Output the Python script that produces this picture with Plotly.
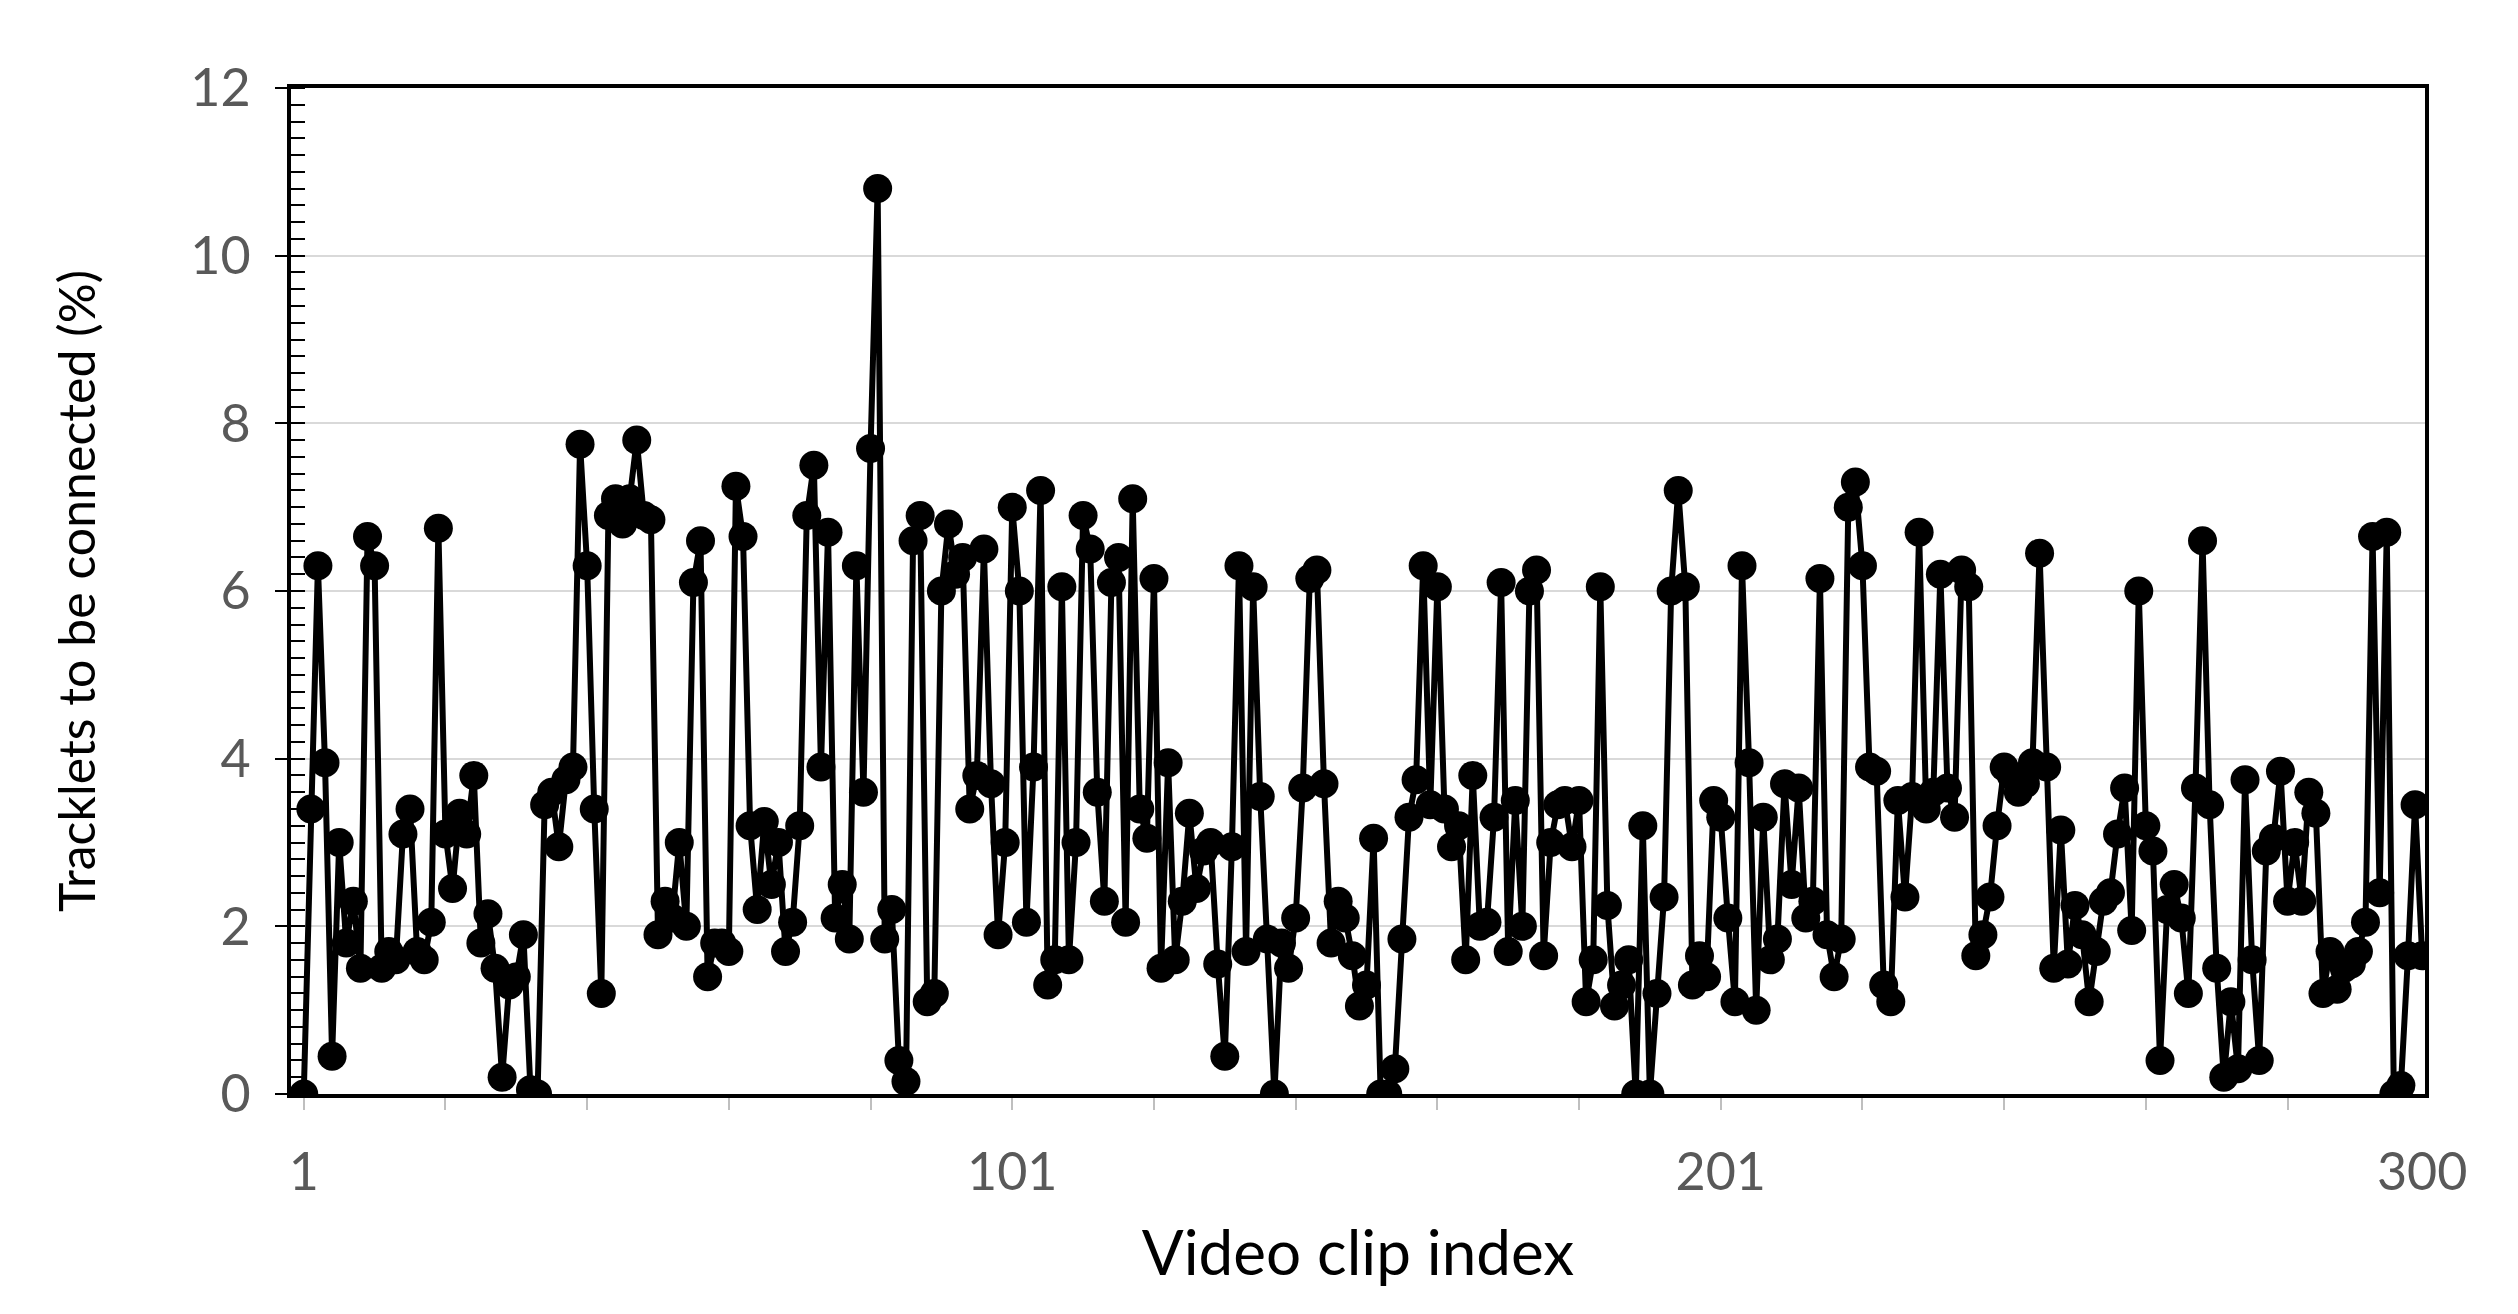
import plotly.graph_objects as go

# clip index 1..300 and the share of tracklets to be connected (%)
clip_index = list(range(1, 301))

seg_a = [0, 3.4, 6.3, 3.95, 0.45, 3.0, 1.8, 2.3, 1.5, 6.65,
         6.3, 1.5, 1.7, 1.6, 3.1, 3.4, 1.7, 1.6, 2.05, 6.75,
         3.1, 2.45, 3.35, 3.1, 3.8, 1.8, 2.15, 1.5, 0.2, 1.3,
         1.4, 1.9, 0.05, 0, 3.45, 3.6, 2.95, 3.75, 3.9, 7.75,
         6.3, 3.4, 1.2, 6.9, 7.1, 6.8, 7.1, 7.8, 6.9, 6.85,
         1.9, 2.3, 2.1, 3.0, 2.0, 6.1, 6.6, 1.4, 1.8, 1.8,
         1.7, 7.25, 6.65, 3.2, 2.2, 3.25, 2.5, 3.0, 1.7, 2.05,
         3.2, 6.9, 7.5, 3.9, 6.7, 2.1, 2.5, 1.85, 6.3, 3.6,
         7.7, 10.8]
seg_b = [1.85, 2.2, 0.4, 0.15, 6.6, 6.9, 1.1, 1.2, 6.0, 6.8,
         6.2, 6.4, 3.4, 3.8, 6.5, 3.7, 1.9, 3.0, 7.0, 6.0,
         2.05, 3.9, 7.2, 1.3, 1.6, 6.05, 1.6, 3.0, 6.9, 6.5,
         3.6, 2.3, 6.1, 6.4, 2.05, 7.1, 3.4, 3.05, 6.15, 1.5,
         3.95, 1.6, 2.3, 3.35, 2.45, 2.9, 3.0, 1.55, 0.45, 2.95,
         6.3, 1.7, 6.05, 3.55, 1.85, 0, 1.8, 1.5, 2.1, 3.65,
         6.15, 6.25, 3.7, 1.8, 2.3, 2.1, 1.65, 1.05, 1.3, 3.05,
         0, 0, 0.3, 1.85, 3.3, 3.75, 6.3, 3.45, 6.05, 3.4,
         2.95, 3.2, 1.6, 3.8, 2.0, 2.05, 3.3, 6.1, 1.7, 3.5,
         2.0, 6.0, 6.25, 1.65, 3.0, 3.45, 3.5, 2.95, 3.5, 1.1,
         1.6, 6.05, 2.25, 1.05, 1.3, 1.6, 0, 3.2, 0, 1.2,
         2.35, 6.0, 7.2]
seg_c = [6.05, 1.3, 1.65, 1.4, 3.5, 3.3, 2.1, 1.1, 6.3, 3.95,
         1.0, 3.3, 1.6, 1.85, 3.7, 2.5, 3.65, 2.1, 2.3, 6.15,
         1.9, 1.4, 1.85, 7.0, 7.3]
seg_d = [6.3, 3.9, 3.85, 1.3, 1.1, 3.5, 2.35, 3.55, 6.7, 3.4,
         3.6, 6.2, 3.65, 3.3, 6.25, 6.05, 1.65, 1.9, 2.35, 3.2,
         3.9, 3.8, 3.6, 3.7, 3.95, 6.45, 3.9, 1.5, 3.15, 1.55,
         2.25, 1.9, 1.1, 1.7, 2.3, 2.4, 3.1, 3.65, 1.95, 6.0,
         3.2, 2.9, 0.4, 2.2, 2.5, 2.1, 1.2, 3.65, 6.6, 3.45,
         1.5, 0.2, 1.1, 0.3, 3.75, 1.6, 0.4, 2.9, 3.05, 3.85,
         2.3, 3.0, 2.3, 3.6, 3.35, 1.2, 1.7, 1.25, 1.5, 1.55,
         1.7, 2.05, 6.65, 2.4, 6.7]
seg_e = [0, 0.1, 1.65, 3.45, 1.65]

tracklets_pct = seg_a + seg_b + seg_c + seg_d + seg_e

x_tick_vals = [1, 101, 201, 300]
y_tick_vals = [0, 2, 4, 6, 8, 10, 12]

fig = go.Figure(go.Scatter(
    x=clip_index, y=tracklets_pct,
    mode="lines+markers",
    line=dict(color="black", width=6),
    marker=dict(color="black", size=29),
    showlegend=False,
))

fig.update_layout(
    width=2518, height=1314,
    margin=dict(l=283, r=101, t=80, b=228),
    paper_bgcolor="white", plot_bgcolor="white",
    font=dict(family="Lato, Open Sans, sans-serif", color="#595959", size=52),
)
fig.update_xaxes(
    range=[-0.8, 300.4],
    tickvals=x_tick_vals, ticktext=[str(v) for v in x_tick_vals],
    showgrid=False, zeroline=False,
    showline=True, linecolor="black", linewidth=4, mirror=True,
    ticks="", tickfont=dict(size=52, color="#595959"),
    ticklabelstandoff=30,
    minor=dict(tick0=1, dtick=20, ticks="outside", ticklen=12, tickcolor="#bfbfbf", tickwidth=2),
    title=dict(text="Video clip index", font=dict(size=62, color="black"), standoff=32),
)
fig.update_yaxes(
    range=[0, 12], tickvals=y_tick_vals,
    showgrid=True, gridcolor="#d9d9d9", gridwidth=2, zeroline=False,
    showline=True, linecolor="black", linewidth=4, mirror=True,
    ticks="outside", ticklen=12, tickcolor="black", tickwidth=2,
    tickfont=dict(size=52, color="#595959"),
    ticklabelstandoff=14,
    minor=dict(dtick=0.2, ticks="inside", ticklen=14, tickcolor="black", tickwidth=2, showgrid=False),
    title=dict(text="Tracklets to be connected (%)", font=dict(size=50, color="black"), standoff=80),
)

fig.write_html("out.html")
